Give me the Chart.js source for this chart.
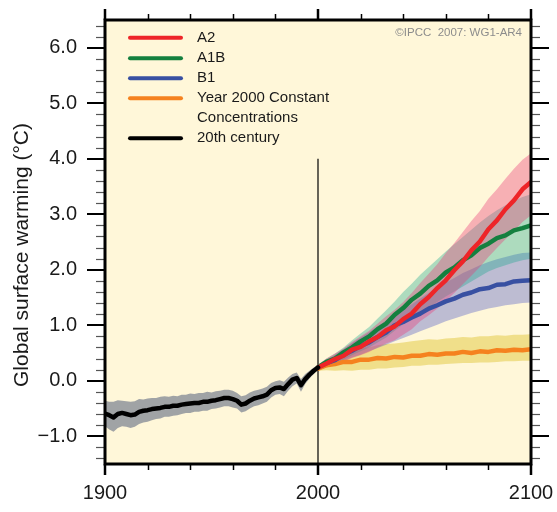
<!DOCTYPE html>
<html><head><meta charset="utf-8">
<script src="https://cdn.jsdelivr.net/npm/chart.js@4"></script>
<style>html,body{margin:0;padding:0;background:#fff;}canvas{display:block;}</style>
</head><body>
<canvas id="c" width="557" height="512"></canvas>
<script>
// ---------- DATA ----------
const histYears = [1900,1902,1904,1906,1908,1910,1912,1914,1916,1918,1920,1922,1924,1926,1928,1930,1932,1934,1936,1938,1940,1942,1944,1946,1948,1950,1952,1954,1956,1958,1960,1962,1964,1966,1968,1970,1972,1974,1976,1978,1980,1982,1984,1986,1988,1990,1992,1994,1996,1998,2000];
const hist20th = [-0.59,-0.62,-0.66,-0.60,-0.58,-0.60,-0.62,-0.61,-0.56,-0.54,-0.53,-0.51,-0.50,-0.49,-0.47,-0.47,-0.45,-0.45,-0.43,-0.42,-0.41,-0.40,-0.40,-0.38,-0.38,-0.36,-0.35,-0.33,-0.31,-0.31,-0.33,-0.36,-0.43,-0.41,-0.36,-0.32,-0.30,-0.28,-0.25,-0.17,-0.13,-0.12,-0.15,-0.06,0.02,0.05,-0.08,0.03,0.11,0.18,0.24];
const histUpper = [-0.36,-0.38,-0.38,-0.35,-0.36,-0.37,-0.38,-0.37,-0.33,-0.34,-0.32,-0.31,-0.31,-0.29,-0.28,-0.29,-0.27,-0.28,-0.25,-0.25,-0.23,-0.24,-0.22,-0.22,-0.20,-0.21,-0.19,-0.18,-0.16,-0.16,-0.18,-0.22,-0.28,-0.26,-0.21,-0.18,-0.16,-0.14,-0.11,-0.04,-0.01,0.01,-0.02,0.06,0.12,0.15,0.03,0.12,0.18,0.24,0.28];
const histLower = [-0.82,-0.88,-0.92,-0.85,-0.82,-0.83,-0.85,-0.83,-0.78,-0.75,-0.74,-0.71,-0.69,-0.68,-0.65,-0.65,-0.63,-0.62,-0.60,-0.58,-0.58,-0.56,-0.56,-0.54,-0.54,-0.51,-0.50,-0.48,-0.46,-0.46,-0.48,-0.50,-0.57,-0.55,-0.50,-0.46,-0.44,-0.41,-0.38,-0.30,-0.25,-0.24,-0.28,-0.18,-0.10,-0.05,-0.20,-0.06,0.04,0.12,0.20];

const projYears = [2000,2004,2008,2012,2016,2020,2024,2028,2032,2036,2040,2044,2048,2052,2056,2060,2064,2068,2072,2076,2080,2084,2088,2092,2096,2100];
const a2Mean   = [0.24,0.31,0.39,0.45,0.56,0.61,0.71,0.79,0.91,0.98,1.11,1.21,1.38,1.51,1.67,1.81,1.99,2.15,2.35,2.51,2.73,2.89,3.09,3.25,3.45,3.58];
const a2Upper  = [0.29,0.40,0.49,0.58,0.70,0.80,0.90,1.03,1.16,1.28,1.42,1.58,1.76,1.93,2.10,2.30,2.48,2.68,2.88,3.06,3.28,3.45,3.64,3.82,3.98,4.10];
const a2Lower  = [0.19,0.25,0.29,0.34,0.41,0.46,0.52,0.60,0.67,0.73,0.83,0.93,1.07,1.18,1.30,1.44,1.58,1.74,1.89,2.05,2.23,2.39,2.55,2.70,2.86,2.98];
const a1bMean  = [0.24,0.34,0.40,0.51,0.60,0.71,0.80,0.93,1.03,1.19,1.31,1.46,1.57,1.71,1.81,1.95,2.04,2.17,2.26,2.39,2.47,2.57,2.62,2.71,2.75,2.80];
const a1bUpper = [0.29,0.40,0.49,0.60,0.73,0.85,0.97,1.12,1.27,1.43,1.60,1.75,1.91,2.05,2.19,2.33,2.46,2.59,2.72,2.85,2.97,3.07,3.16,3.24,3.31,3.36];
const a1bLower = [0.19,0.26,0.31,0.38,0.46,0.53,0.60,0.69,0.78,0.90,1.02,1.12,1.22,1.32,1.42,1.52,1.61,1.70,1.79,1.88,1.97,2.03,2.08,2.13,2.17,2.20];
const b1Mean   = [0.24,0.32,0.37,0.47,0.54,0.63,0.69,0.79,0.87,1.00,1.06,1.14,1.21,1.30,1.36,1.43,1.48,1.55,1.59,1.65,1.67,1.73,1.74,1.79,1.80,1.81];
const b1Upper  = [0.29,0.38,0.47,0.57,0.68,0.78,0.88,0.98,1.08,1.18,1.28,1.38,1.48,1.58,1.68,1.77,1.85,1.94,2.01,2.08,2.14,2.19,2.23,2.27,2.30,2.31];
const b1Lower  = [0.19,0.24,0.29,0.35,0.42,0.47,0.53,0.59,0.65,0.71,0.77,0.83,0.89,0.95,1.01,1.07,1.12,1.17,1.22,1.26,1.30,1.33,1.36,1.38,1.40,1.41];
const constMean  = [0.22,0.28,0.30,0.34,0.34,0.38,0.38,0.41,0.40,0.43,0.42,0.45,0.45,0.48,0.47,0.49,0.49,0.52,0.50,0.53,0.52,0.55,0.54,0.56,0.55,0.57];
const constUpper = [0.26,0.38,0.45,0.52,0.57,0.60,0.60,0.64,0.66,0.67,0.69,0.71,0.73,0.75,0.74,0.76,0.77,0.79,0.78,0.80,0.80,0.82,0.81,0.83,0.83,0.84];
const constLower = [0.18,0.19,0.18,0.19,0.18,0.20,0.20,0.22,0.22,0.24,0.25,0.27,0.27,0.29,0.29,0.30,0.31,0.32,0.32,0.33,0.33,0.34,0.35,0.35,0.36,0.36];

const dividerYear = [2000, 2000];
const dividerRange = [-1.5, 4.0];

const yMajorTicks = [-1, 0, 1, 2, 3, 4, 5, 6];
const xMajorTicks = [1900, 2000, 2100];
const xMinorTicks = [1920, 1940, 1960, 1980, 2020, 2040, 2060, 2080];

const legendLabels = ['A2', 'A1B', 'B1', ['Year 2000 Constant', 'Concentrations'], '20th century'];
const yTitle = 'Global surface warming (\u00B0C)';
const creditText = '\u00A9IPCC  2007: WG1-AR4';

// ---------- BUILD ----------
const FONT = '"Liberation Sans", Arial, Helvetica, sans-serif';
const pts = (xs, ys) => xs.map((x, i) => ({x: x, y: ys[i]}));

function band(xs, up, lo, color, order) {
  return [
    {label: '', data: pts(xs, up), borderWidth: 0, pointRadius: 0, fill: '+1', backgroundColor: color, order: order},
    {label: '', data: pts(xs, lo), borderWidth: 0, pointRadius: 0, fill: false, order: order}
  ];
}
function line(label, xs, ys, color, order) {
  return {label: label, data: pts(xs, ys), borderColor: color, backgroundColor: color, borderWidth: 4.5, pointRadius: 0, fill: false, order: order, borderJoinStyle: 'round', borderCapStyle: 'round'};
}

const COLORS = {a2: '#EE2528', a1b: '#14803F', b1: '#3850A2', cst: '#F5821F', hist: '#000000'};

const datasets = [
  line('A2', projYears, a2Mean, COLORS.a2, 1),
  line('A1B', projYears, a1bMean, COLORS.a1b, 2),
  line('B1', projYears, b1Mean, COLORS.b1, 3),
  line('Year 2000 Constant Concentrations', projYears, constMean, COLORS.cst, 4),
  line('20th century', histYears, hist20th, COLORS.hist, 0),
  {label: '', data: pts(dividerYear, dividerRange), borderColor: '#000', borderWidth: 1.2, pointRadius: 0, fill: false, order: 8},
  ...band(projYears, a2Upper, a2Lower, 'rgba(235,60,120,0.38)', 15),
  ...band(projYears, a1bUpper, a1bLower, 'rgba(20,165,140,0.35)', 16),
  ...band(projYears, b1Upper, b1Lower, 'rgba(90,100,200,0.40)', 17),
  ...band(projYears, constUpper, constLower, 'rgba(225,200,60,0.5)', 18),
  ...band(histYears, histUpper, histLower, 'rgba(155,158,162,0.95)', 19)
];

const decor = {
  id: 'decor',
  beforeDraw(chart) {
    const ctx = chart.ctx, a = chart.chartArea;
    ctx.save();
    ctx.fillStyle = '#ffffff';
    ctx.fillRect(0, 0, chart.width, chart.height);
    ctx.fillStyle = '#FFF7D9';
    ctx.fillRect(a.left, a.top, a.right - a.left, a.bottom - a.top);
    ctx.restore();
  },
  afterDatasetsDraw(chart) {
    const ctx = chart.ctx, a = chart.chartArea;
    const xs = chart.scales.x, ys = chart.scales.y;
    const seg = (x1, y1, x2, y2) => { ctx.beginPath(); ctx.moveTo(x1, y1); ctx.lineTo(x2, y2); ctx.stroke(); };
    ctx.save();
    // minor y ticks every 0.2
    ctx.strokeStyle = '#555'; ctx.lineWidth = 1.2;
    for (let k = -7; k <= 32; k++) {
      const v = k / 5;
      if (Number.isInteger(v)) continue;
      const p = Math.round(ys.getPixelForValue(v)) + 0.5;
      seg(a.left - 9, p, a.left, p);
      seg(a.right, p, a.right + 9, p);
    }
    ctx.strokeStyle = '#000'; ctx.lineWidth = 2;
    yMajorTicks.forEach(v => {
      const p = Math.round(ys.getPixelForValue(v));
      seg(a.left - 18, p, a.left, p);
      seg(a.right, p, a.right + 18, p);
    });
    ctx.lineWidth = 1.5;
    xMinorTicks.forEach(v => {
      const p = Math.round(xs.getPixelForValue(v)) + 0.5;
      seg(p, a.bottom, p, a.bottom + 6);
      seg(p, a.top - 6, p, a.top);
    });
    ctx.lineWidth = 2.5;
    xMajorTicks.forEach(v => {
      const p = Math.round(xs.getPixelForValue(v));
      seg(p, a.bottom, p, a.bottom + 11);
      seg(p, a.top - 11, p, a.top);
    });
    // frame
    ctx.lineWidth = 3;
    ctx.strokeStyle = '#000';
    ctx.strokeRect(a.left, a.top, a.right - a.left, a.bottom - a.top);
    ctx.restore();
  },
  afterDraw(chart) {
    const ctx = chart.ctx;
    ctx.save();
    // legend
    const lineDs = chart.data.datasets.slice(0, 5);
    const rows = [37.7, 58.3, 78.3, 98.3, 138.3];
    ctx.font = '15px ' + FONT;
    ctx.textBaseline = 'middle';
    ctx.textAlign = 'left';
    lineDs.forEach((ds, i) => {
      const y = rows[i];
      ctx.strokeStyle = ds.borderColor; ctx.lineWidth = 4; ctx.lineCap = 'round';
      ctx.beginPath(); ctx.moveTo(130, y); ctx.lineTo(181, y); ctx.stroke();
      ctx.fillStyle = '#1a1a1a';
      const lab = legendLabels[i];
      if (Array.isArray(lab)) {
        lab.forEach((t, j) => ctx.fillText(t, 197, y + j * 20));
      } else ctx.fillText(lab, 197, y);
    });
    // credit
    ctx.font = '11.5px ' + FONT;
    ctx.fillStyle = '#8c8c8c';
    ctx.textAlign = 'right';
    ctx.fillText(creditText, 522, 32.5);
    // y title
    ctx.translate(22, 255);
    ctx.rotate(-Math.PI / 2);
    ctx.font = '21px ' + FONT;
    ctx.fillStyle = '#1a1a1a';
    ctx.textAlign = 'center';
    ctx.fillText(yTitle, 0, 0);
    ctx.restore();
  }
};

new Chart(document.getElementById('c'), {
  type: 'line',
  data: {datasets: datasets},
  options: {
    responsive: false,
    animation: false,
    events: [],
    layout: {padding: {top: 20, right: 26, left: 0, bottom: 0}},
    plugins: {legend: {display: false}, tooltip: {enabled: false}},
    elements: {line: {tension: 0}},
    scales: {
      x: {
        type: 'linear', min: 1900, max: 2100,
        grid: {display: false, drawTicks: false}, border: {display: false},
        afterBuildTicks: s => { s.ticks = xMajorTicks.map(v => ({value: v})); },
        afterFit: s => { s.height = 48; s.paddingLeft = 0; s.paddingRight = 0; },
        ticks: {padding: 17, color: '#1a1a1a', font: {family: FONT, size: 20}, maxRotation: 0, autoSkip: false, callback: v => String(v)}
      },
      y: {
        type: 'linear', min: -1.5, max: 6.5,
        grid: {display: false, drawTicks: false}, border: {display: false},
        afterBuildTicks: s => { s.ticks = yMajorTicks.map(v => ({value: v})); },
        afterFit: s => { s.width = 105; s.paddingTop = 0; s.paddingBottom = 0; },
        ticks: {padding: 28, color: '#1a1a1a', font: {family: FONT, size: 20}, autoSkip: false,
          callback: v => (v < 0 ? '\u2212' : '') + Math.abs(v).toFixed(1)}
      }
    }
  },
  plugins: [decor]
});
</script>
</body></html>
